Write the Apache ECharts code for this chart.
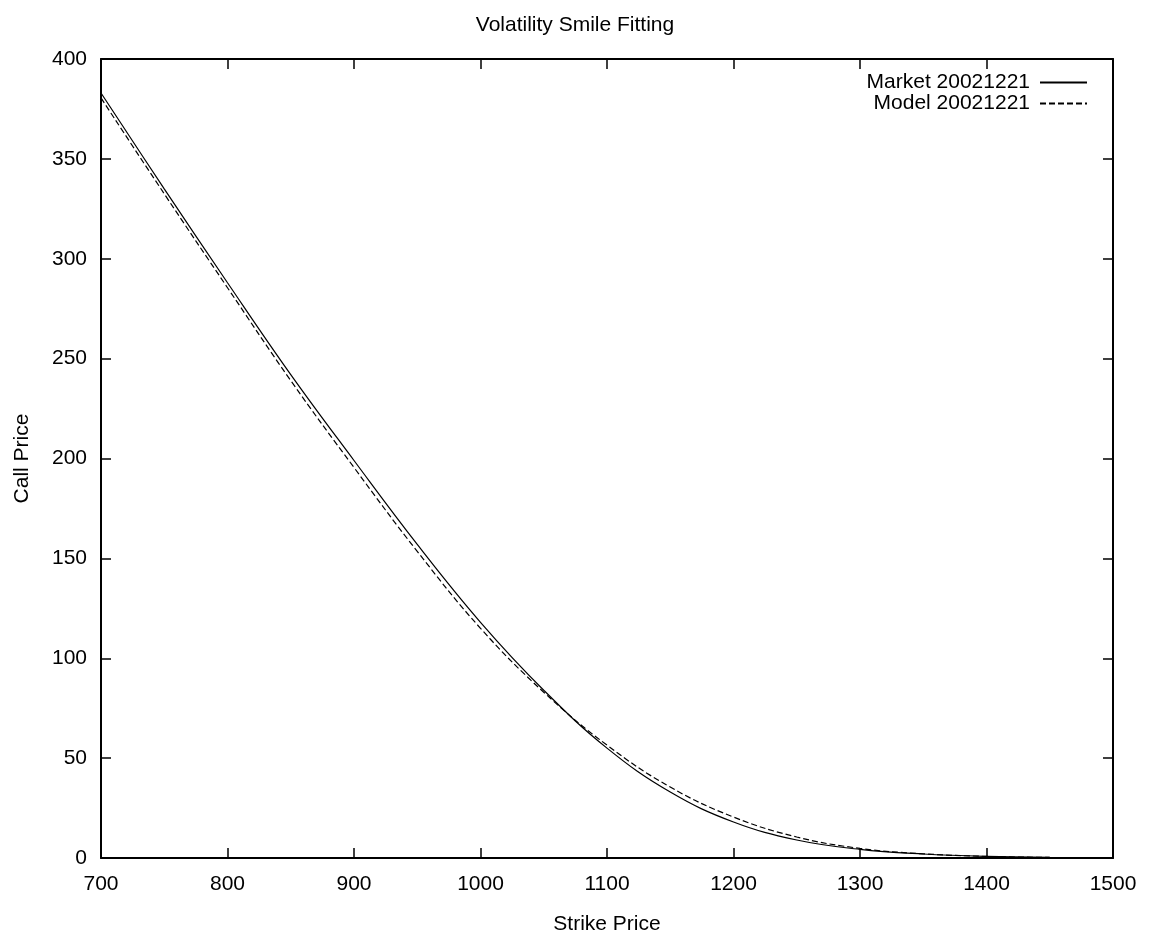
<!DOCTYPE html>
<html>
<head>
<meta charset="utf-8">
<script src="https://cdn.jsdelivr.net/npm/echarts@6/dist/echarts.min.js"></script>
<style>html,body{margin:0;padding:0;background:#fff;}#chart{width:1150px;height:940px;}</style>
</head>
<body>
<div id="chart"></div>
<script>
const strikes = [700, 750, 800, 850, 900, 950, 1000, 1050, 1100, 1150, 1200, 1250, 1300, 1350, 1400, 1450];
const marketPrices = [383, 335, 288, 242, 199, 157, 118, 84, 55, 33, 18, 9, 4.3, 2.0, 0.8, 0.3];
const modelPrices = [380.5, 332.5, 285.5, 239, 195.5, 153.5, 115, 83, 56.5, 35.5, 20.5, 10.5, 4.8, 2.1, 0.8, 0.3];
const xTicks = [700, 1500, 100];
const yTicks = [0, 400, 50];

const font = 'Liberation Sans';
const fs = 21;
const chart = echarts.init(document.getElementById('chart'), null, {renderer: 'canvas'});
const mk = (arr) => strikes.map((s, i) => [s, arr[i]]);
const baseX = {type: 'value', min: xTicks[0], max: xTicks[1], interval: xTicks[2],
  axisLine: {show: true, onZero: false, lineStyle: {color: '#000', width: 2}},
  axisTick: {show: true, inside: true, length: 10, lineStyle: {color: '#000', width: 1.5}},
  splitLine: {show: false}};
const baseY = {type: 'value', min: yTicks[0], max: yTicks[1], interval: yTicks[2],
  axisLine: {show: true, onZero: false, lineStyle: {color: '#000', width: 2}},
  axisTick: {show: true, inside: true, length: 10, lineStyle: {color: '#000', width: 1.5}},
  splitLine: {show: false}};
chart.setOption({
  backgroundColor: '#fff',
  animation: false,
  title: {text: 'Volatility Smile Fitting', left: 'center', top: 10,
    textStyle: {fontFamily: font, fontSize: fs, fontWeight: 'normal', color: '#000'}},
  legend: {right: 57, top: 67, orient: 'vertical', align: 'right', itemWidth: 47, itemHeight: 12, itemGap: 0,
    itemStyle: {opacity: 0},
    textStyle: {fontFamily: font, fontSize: fs, color: '#000', padding: [0, 5, 0, 0]},
    data: ['Market 20021221', 'Model 20021221']},
  grid: {left: 101, right: 37, top: 59, bottom: 82, containLabel: false},
  xAxis: [
    Object.assign({}, baseX, {position: 'bottom', name: 'Strike Price', nameLocation: 'middle', nameGap: 56,
      nameTextStyle: {fontFamily: font, fontSize: fs, color: '#000'},
      axisLabel: {show: true, margin: 16, fontFamily: font, fontSize: fs, color: '#000', formatter: (v) => String(v)}}),
    Object.assign({}, baseX, {position: 'top', axisLabel: {show: false}})
  ],
  yAxis: [
    Object.assign({}, baseY, {position: 'left', name: 'Call Price', nameLocation: 'middle', nameGap: 68,
      nameTextStyle: {fontFamily: font, fontSize: fs, color: '#000'},
      axisLabel: {show: true, margin: 14, fontFamily: font, fontSize: fs, color: '#000', formatter: (v) => String(v)}}),
    Object.assign({}, baseY, {position: 'right', axisLabel: {show: false}})
  ],
  series: [
    {name: 'Market 20021221', type: 'line', xAxisIndex: 0, yAxisIndex: 0, data: mk(marketPrices),
      smooth: 0.4, symbol: 'none', lineStyle: {color: '#000', width: 1.2, type: 'solid'}, itemStyle: {color: '#000'}},
    {name: 'Model 20021221', type: 'line', xAxisIndex: 0, yAxisIndex: 0, data: mk(modelPrices),
      smooth: 0.4, symbol: 'none', lineStyle: {color: '#000', width: 1.2, type: [6, 3]}, itemStyle: {color: '#000'}}
  ]
});
</script>
</body>
</html>
